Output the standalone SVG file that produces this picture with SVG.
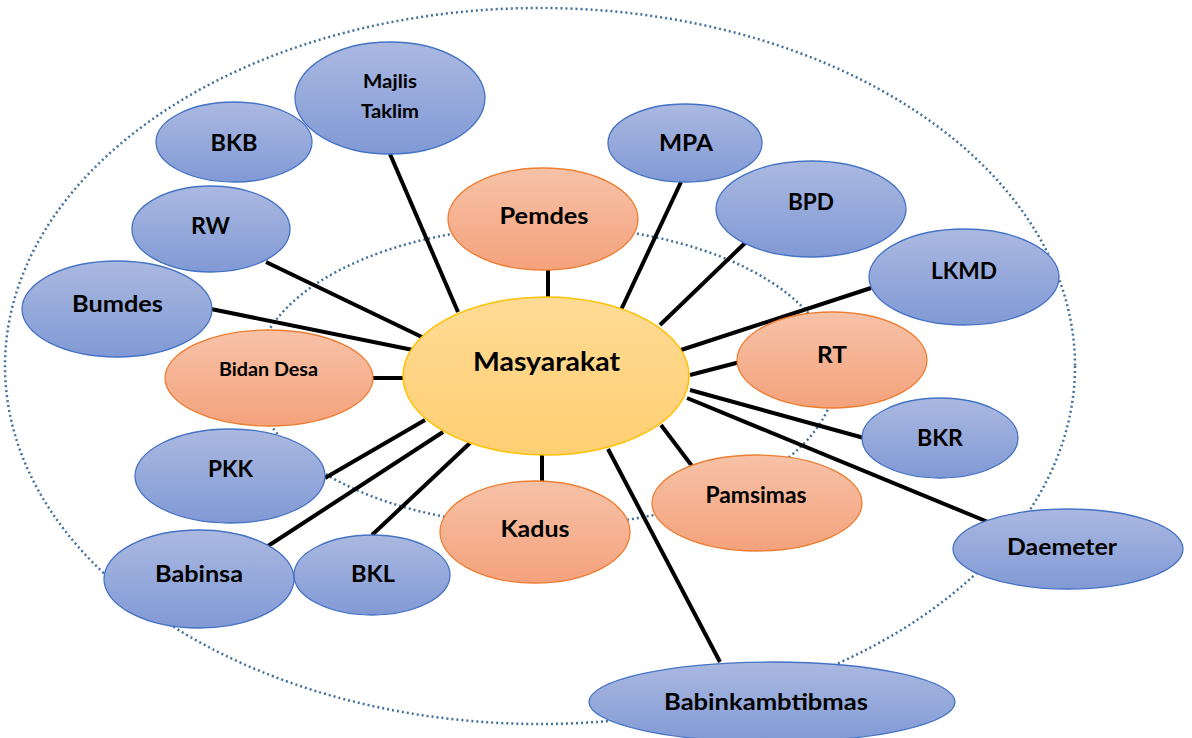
<svg xmlns="http://www.w3.org/2000/svg" width="1192" height="738" viewBox="0 0 1192 738">
<defs>
<linearGradient id="gb" x1="0" y1="0" x2="0" y2="1"><stop offset="0" stop-color="#abb9e1"/><stop offset="1" stop-color="#8199d5"/></linearGradient>
<linearGradient id="go" x1="0" y1="0" x2="0" y2="1"><stop offset="0" stop-color="#f7c2a8"/><stop offset="1" stop-color="#f4a27c"/></linearGradient>
<linearGradient id="gy" x1="0" y1="0" x2="0" y2="1"><stop offset="0" stop-color="#ffdb96"/><stop offset="1" stop-color="#ffcf72"/></linearGradient>
<style>
.b{fill:url(#gb);stroke:#4472c4;stroke-width:1.3}
.o{fill:url(#go);stroke:#ed7d31;stroke-width:1.3}
.y{fill:url(#gy);stroke:#ffc000;stroke-width:1.5}
.d{fill:none;stroke:#41719c;stroke-width:2.5;stroke-dasharray:2 3}
.c line{stroke:#000;stroke-width:4}
text{font-family:Lato,"Open Sans","Liberation Sans",sans-serif;font-weight:bold;fill:#000;text-anchor:middle}
.t{font-size:22.5px}
</style>
</defs>
<rect width="1192" height="738" fill="#fff"/>
<ellipse class="d" cx="540" cy="366" rx="535" ry="358"/>
<ellipse class="d" cx="545" cy="376" rx="290" ry="150"/>
<g class="c" id="connectors">
<line x1="390" y1="154" x2="458" y2="312"/>
<line x1="266" y1="262" x2="424" y2="338"/>
<line x1="211" y1="309" x2="413" y2="350"/>
<line x1="373" y1="378" x2="404" y2="378"/>
<line x1="325" y1="478" x2="425" y2="420"/>
<line x1="268" y1="546" x2="443" y2="432"/>
<line x1="372" y1="535" x2="470" y2="443"/>
<line x1="542" y1="455" x2="542" y2="488"/>
<line x1="608" y1="449" x2="720" y2="662"/>
<line x1="661" y1="425" x2="692" y2="466"/>
<line x1="687" y1="398" x2="988" y2="522"/>
<line x1="690" y1="390" x2="864" y2="438"/>
<line x1="690" y1="375" x2="740" y2="362"/>
<line x1="681" y1="350" x2="871" y2="288"/>
<line x1="660" y1="325" x2="745" y2="243"/>
<line x1="621" y1="310" x2="681" y2="182"/>
<line x1="548" y1="270" x2="548" y2="298"/>
</g>
<g id="majlis"><ellipse class="b" cx="390" cy="98" rx="95" ry="56"/><text x="390" y="88" font-size="18.5" textLength="54" lengthAdjust="spacingAndGlyphs">Majlis</text><text x="390" y="118" font-size="18.5" textLength="58" lengthAdjust="spacingAndGlyphs">Taklim</text></g>
<g id="bkb"><ellipse class="b" cx="234" cy="142" rx="78" ry="40"/><text class="t" x="234" y="151" textLength="47" lengthAdjust="spacingAndGlyphs">BKB</text></g>
<g id="rw"><ellipse class="b" cx="211" cy="229" rx="79" ry="43"/><text class="t" x="210.5" y="234" textLength="39" lengthAdjust="spacingAndGlyphs">RW</text></g>
<g id="bumdes"><ellipse class="b" cx="117" cy="309" rx="95" ry="48"/><text class="t" x="117.5" y="312" textLength="91" lengthAdjust="spacingAndGlyphs">Bumdes</text></g>
<g id="bidan"><ellipse class="o" cx="269" cy="378" rx="104" ry="48"/><text x="268.5" y="376" font-size="19.5" textLength="99" lengthAdjust="spacingAndGlyphs">Bidan Desa</text></g>
<g id="pkk"><ellipse class="b" cx="230" cy="476" rx="95" ry="47"/><text class="t" x="230.5" y="477" textLength="45" lengthAdjust="spacingAndGlyphs">PKK</text></g>
<g id="babinsa"><ellipse class="b" cx="199" cy="579" rx="95" ry="49"/><text class="t" x="199" y="582" textLength="88" lengthAdjust="spacingAndGlyphs">Babinsa</text></g>
<g id="bkl"><ellipse class="b" cx="372" cy="575" rx="78" ry="40"/><text class="t" x="373" y="582" textLength="44" lengthAdjust="spacingAndGlyphs">BKL</text></g>
<g id="kadus"><ellipse class="o" cx="535" cy="532" rx="95" ry="51"/><text class="t" x="535" y="537" textLength="69" lengthAdjust="spacingAndGlyphs">Kadus</text></g>
<g id="pemdes"><ellipse class="o" cx="543" cy="219" rx="95" ry="51"/><text class="t" x="544" y="224" textLength="89" lengthAdjust="spacingAndGlyphs">Pemdes</text></g>
<g id="masyarakat"><ellipse class="y" cx="546" cy="376" rx="143" ry="79"/><text x="546.5" y="371" font-size="26.5" textLength="147" lengthAdjust="spacingAndGlyphs">Masyarakat</text></g>
<g id="mpa"><ellipse class="b" cx="685" cy="143" rx="77" ry="39"/><text class="t" x="686" y="151" textLength="54" lengthAdjust="spacingAndGlyphs">MPA</text></g>
<g id="bpd"><ellipse class="b" cx="811" cy="209" rx="95" ry="48"/><text class="t" x="811" y="210" textLength="46" lengthAdjust="spacingAndGlyphs">BPD</text></g>
<g id="lkmd"><ellipse class="b" cx="964" cy="277" rx="95" ry="48"/><text class="t" x="964" y="279" textLength="66" lengthAdjust="spacingAndGlyphs">LKMD</text></g>
<g id="rt"><ellipse class="o" cx="832" cy="360" rx="95" ry="48"/><text class="t" x="832" y="363" textLength="30" lengthAdjust="spacingAndGlyphs">RT</text></g>
<g id="bkr"><ellipse class="b" cx="940" cy="438" rx="78" ry="40"/><text class="t" x="940" y="446" textLength="46" lengthAdjust="spacingAndGlyphs">BKR</text></g>
<g id="pamsimas"><ellipse class="o" cx="757" cy="503" rx="105" ry="48"/><text class="t" x="756" y="503" textLength="101" lengthAdjust="spacingAndGlyphs">Pamsimas</text></g>
<g id="daemeter"><ellipse class="b" cx="1068" cy="549" rx="115" ry="40"/><text class="t" x="1062" y="555" textLength="110" lengthAdjust="spacingAndGlyphs">Daemeter</text></g>
<g id="babinkambtibmas"><ellipse class="b" cx="772" cy="702" rx="183" ry="40"/><text class="t" x="766" y="710" textLength="204" lengthAdjust="spacingAndGlyphs">Babinkambtibmas</text></g>
</svg>
